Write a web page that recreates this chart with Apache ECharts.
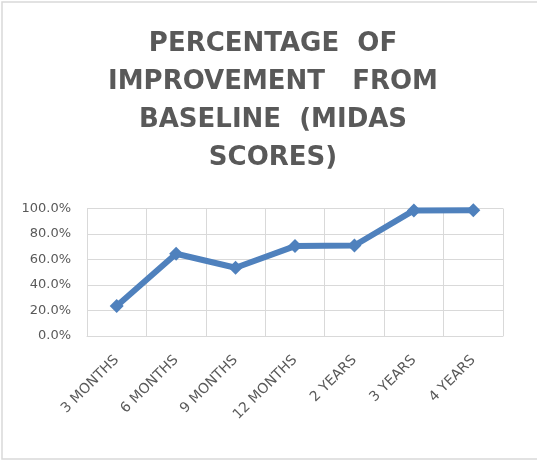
<!DOCTYPE html>
<html><head><meta charset="utf-8">
<script src="https://cdn.jsdelivr.net/npm/echarts@6/dist/echarts.min.js"></script>
<style>html,body{margin:0;padding:0;background:#fff}#c{width:537px;height:460px}</style>
</head><body><div id="c"></div>
<script>
const categories = ['3 MONTHS','6 MONTHS','9 MONTHS','12 MONTHS','2 YEARS','3 YEARS','4 YEARS'];
const improvement = [23.6, 64.5, 53.5, 70.5, 71.0, 98.5, 98.7];
const titleLines = ['PERCENTAGE  OF', 'IMPROVEMENT   FROM', 'BASELINE  (MIDAS', 'SCORES)'];

const chart = echarts.init(document.getElementById('c'));
chart.setOption({
  animation: false,
  graphic: [{
    type: 'rect', shape: {x: 2, y: 2, width: 560, height: 457},
    style: {fill: 'none', stroke: '#d9d9d9', lineWidth: 1.5}, silent: true
  }],
  title: {
    text: titleLines.join('\n'),
    left: 268, top: 20,
    textAlign: 'center',
    textStyle: {
      fontFamily: 'DejaVu Sans', fontWeight: 'bold', fontSize: 26,
      color: '#595959', lineHeight: 38, align: 'center'
    }
  },
  grid: {left: 87, right: 34, top: 208.5, bottom: 124, containLabel: false},
  xAxis: {
    type: 'category', data: categories, boundaryGap: true,
    axisLine: {show: true, lineStyle: {color: '#d9d9d9', width: 1}},
    axisTick: {show: false},
    splitLine: {show: true, lineStyle: {color: '#d9d9d9', width: 1}},
    axisLabel: {
      rotate: 45, color: '#595959', fontFamily: 'DejaVu Sans', fontSize: 14,
      margin: 22, interval: 0
    }
  },
  yAxis: {
    type: 'value', min: 0, max: 100, interval: 20,
    axisLine: {show: false}, axisTick: {show: false},
    splitLine: {lineStyle: {color: '#d9d9d9', width: 1}},
    axisLabel: {
      color: '#595959', fontFamily: 'DejaVu Sans', fontSize: 13, margin: 16,
      formatter: v => v.toFixed(1) + '%'
    }
  },
  series: [{
    type: 'line', data: improvement,
    symbol: 'diamond', symbolSize: 14,
    lineStyle: {color: '#4F81BD', width: 6},
    itemStyle: {color: '#4F81BD'}
  }]
});
</script></body></html>
